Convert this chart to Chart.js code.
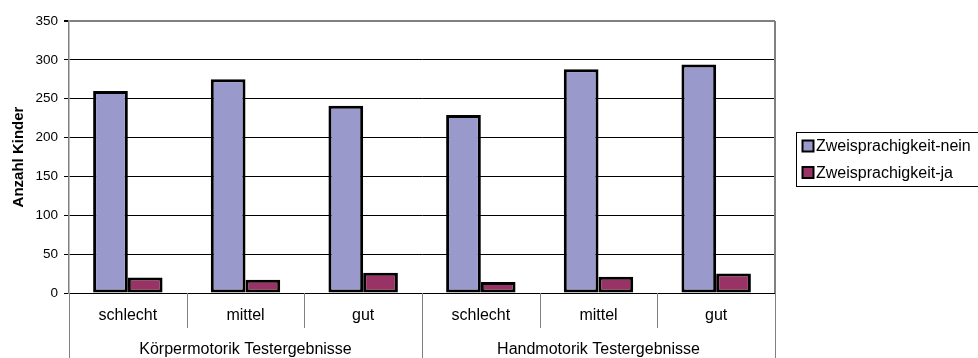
<!DOCTYPE html>
<html>
<head>
<meta charset="utf-8">
<script src="https://cdn.jsdelivr.net/npm/chart.js@4"></script>
<style>
  html, body { margin: 0; padding: 0; background: #fff; }
  #wrap { width: 978px; height: 358px; }
</style>
</head>
<body>
<div id="wrap"><canvas id="grafik" width="978" height="358"></canvas></div>
<script>
// Daten
const kategorien = ["schlecht", "mittel", "gut", "schlecht", "mittel", "gut"];
const gruppen = ["Körpermotorik Testergebnisse", "Handmotorik Testergebnisse"];
const zweisprachigkeitNein = [260, 275, 241, 229, 288, 294];
const zweisprachigkeitJa = [20, 17, 26, 14, 21, 25];
const serienNamen = ["Zweisprachigkeit-nein", "Zweisprachigkeit-ja"];
const farben = ["#9999cc", "#993366"];

const schrift = "'Liberation Sans', Arial, sans-serif";

// zweistufige Kategorienachse + Rahmen + Legende
const achsenPlugin = {
  id: "achsen",
  afterDraw(chart) {
    const ctx = chart.ctx;
    const xs = chart.scales.x;
    const area = chart.chartArea;
    const n = kategorien.length;
    const w = (xs.right - xs.left) / n;
    const proGruppe = n / gruppen.length;

    ctx.save();
    // rechter Rahmen
    ctx.strokeStyle = "#808080";
    ctx.lineWidth = 2;
    ctx.beginPath();
    ctx.moveTo(area.right, area.top);
    ctx.lineTo(area.right, area.bottom);
    ctx.stroke();

    // Trennstriche
    ctx.lineWidth = 1;
    for (let k = 0; k <= n; k++) {
      const x = Math.round(xs.left + k * w) + 0.5;
      const lang = k % proGruppe === 0;
      ctx.beginPath();
      ctx.moveTo(x, area.bottom);
      ctx.lineTo(x, lang ? 358 : area.bottom + 35);
      ctx.stroke();
    }

    ctx.fillStyle = "#000";
    ctx.font = "16px " + schrift;
    ctx.textAlign = "center";
    ctx.textBaseline = "middle";
    kategorien.forEach((k, i) => {
      ctx.fillText(k, xs.left + (i + 0.5) * w, area.bottom + 23);
    });
    gruppen.forEach((g, i) => {
      ctx.fillText(g, xs.left + (i + 0.5) * w * proGruppe, area.bottom + 57);
    });

    // Legende
    ctx.strokeStyle = "#000";
    ctx.lineWidth = 1;
    ctx.strokeRect(796.5, 132.5, 182, 54);
    ctx.textAlign = "left";
    serienNamen.forEach((name, i) => {
      const y = 146 + i * 26.5;
      ctx.fillStyle = farben[i];
      ctx.fillRect(802.5, y - 5.5, 11, 11);
      ctx.lineWidth = 2;
      ctx.strokeRect(802.5, y - 5.5, 11, 11);
      ctx.fillStyle = "#000";
      ctx.fillText(name, 816, y + 1);
    });
    ctx.restore();
  }
};

const config = {
  type: "bar",
  data: {
    labels: kategorien,
    datasets: [
      {
        label: serienNamen[0],
        data: zweisprachigkeitNein,
        backgroundColor: farben[0],
        borderColor: "#000",
        borderWidth: 3,
        borderSkipped: false,
      },
      {
        label: serienNamen[1],
        data: zweisprachigkeitJa,
        backgroundColor: farben[1],
        borderColor: "#000",
        borderWidth: 3,
        borderSkipped: false,
      },
    ],
  },
  options: {
    responsive: false,
    animation: false,
    layout: { padding: { top: 21, right: 203, left: 0, bottom: 0 } },
    datasets: { bar: { categoryPercentage: 0.59, barPercentage: 1 } },
    plugins: { legend: { display: false }, tooltip: { enabled: false } },
    scales: {
      x: {
        ticks: { display: false },
        grid: { display: false },
        border: { display: false },
        afterFit(scale) { scale.height = 65; },
      },
      y: {
        min: 0,
        max: 350,
        ticks: {
          stepSize: 50,
          color: "#000",
          padding: 6,
          font: { family: schrift, size: 13.5 },
        },
        grid: {
          color: (c) => (c.tick && c.tick.value === 350 ? "#808080" : "#000"),
          lineWidth: (c) => (c.tick && c.tick.value === 350 ? 2 : 1),
          tickColor: "#000",
          tickLength: 5,
        },
        border: { color: "#808080", width: 1.5 },
        title: {
          display: true,
          text: "Anzahl Kinder",
          color: "#000",
          padding: { top: 10, bottom: 0 },
          font: { family: schrift, size: 15, weight: "bold" },
        },
        afterFit(scale) { scale.width = 69; },
      },
    },
  },
  plugins: [achsenPlugin],
};

new Chart(document.getElementById("grafik").getContext("2d"), config);
</script>
</body>
</html>
